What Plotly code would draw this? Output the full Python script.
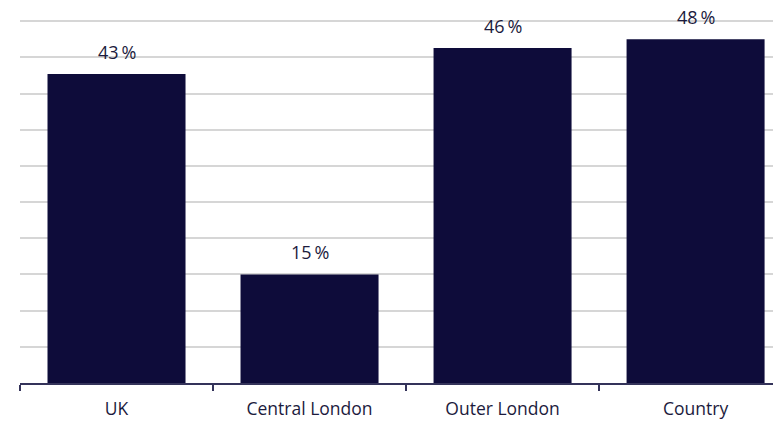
import plotly.graph_objects as go

categories = ["UK", "Central London", "Outer London", "Country"]
values = [42.7, 15.0, 46.3, 47.5]
value_labels = ["43\u2009%", "15\u2009%", "46\u2009%", "48\u2009%"]

BAR_COLOR = "#0e0c3a"
TEXT_COLOR = "#1c1b3d"
FONT = "Open Sans"

fig = go.Figure()
fig.add_trace(go.Bar(
    x=categories,
    y=values,
    marker=dict(color=BAR_COLOR, line=dict(width=0)),
    width=0.715,
    hoverinfo="skip",
))

for c, v, t in zip(categories, values, value_labels):
    fig.add_annotation(
        x=c, y=v, text=t, showarrow=False,
        xref="x", yref="y", yanchor="middle", yshift=22,
        font=dict(family=FONT, size=18, color=TEXT_COLOR),
    )

fig.update_layout(
    width=781, height=422,
    margin=dict(l=12, r=0, t=6, b=47),
    paper_bgcolor="white",
    plot_bgcolor="white",
    showlegend=False,
    font=dict(family=FONT, size=17.5, color=TEXT_COLOR),
    xaxis=dict(
        type="category",
        range=[-0.5, 3.484],
        showline=True, linecolor="#34335a", linewidth=1.5,
        ticks="outside", tickson="boundaries", ticklen=6,
        tickcolor="#34335a", tickwidth=1.5,
        ticklabelstandoff=9,
        tickfont=dict(family=FONT, size=17.5, color=TEXT_COLOR),
        showgrid=False, zeroline=False,
    ),
    yaxis=dict(
        range=[0, 51],
        dtick=5, tick0=0,
        showgrid=True, gridcolor="#d6d6d6", gridwidth=1.5,
        showticklabels=False, ticks="",
        zeroline=False, showline=False,
    ),
)

fig.write_html("out.html")
